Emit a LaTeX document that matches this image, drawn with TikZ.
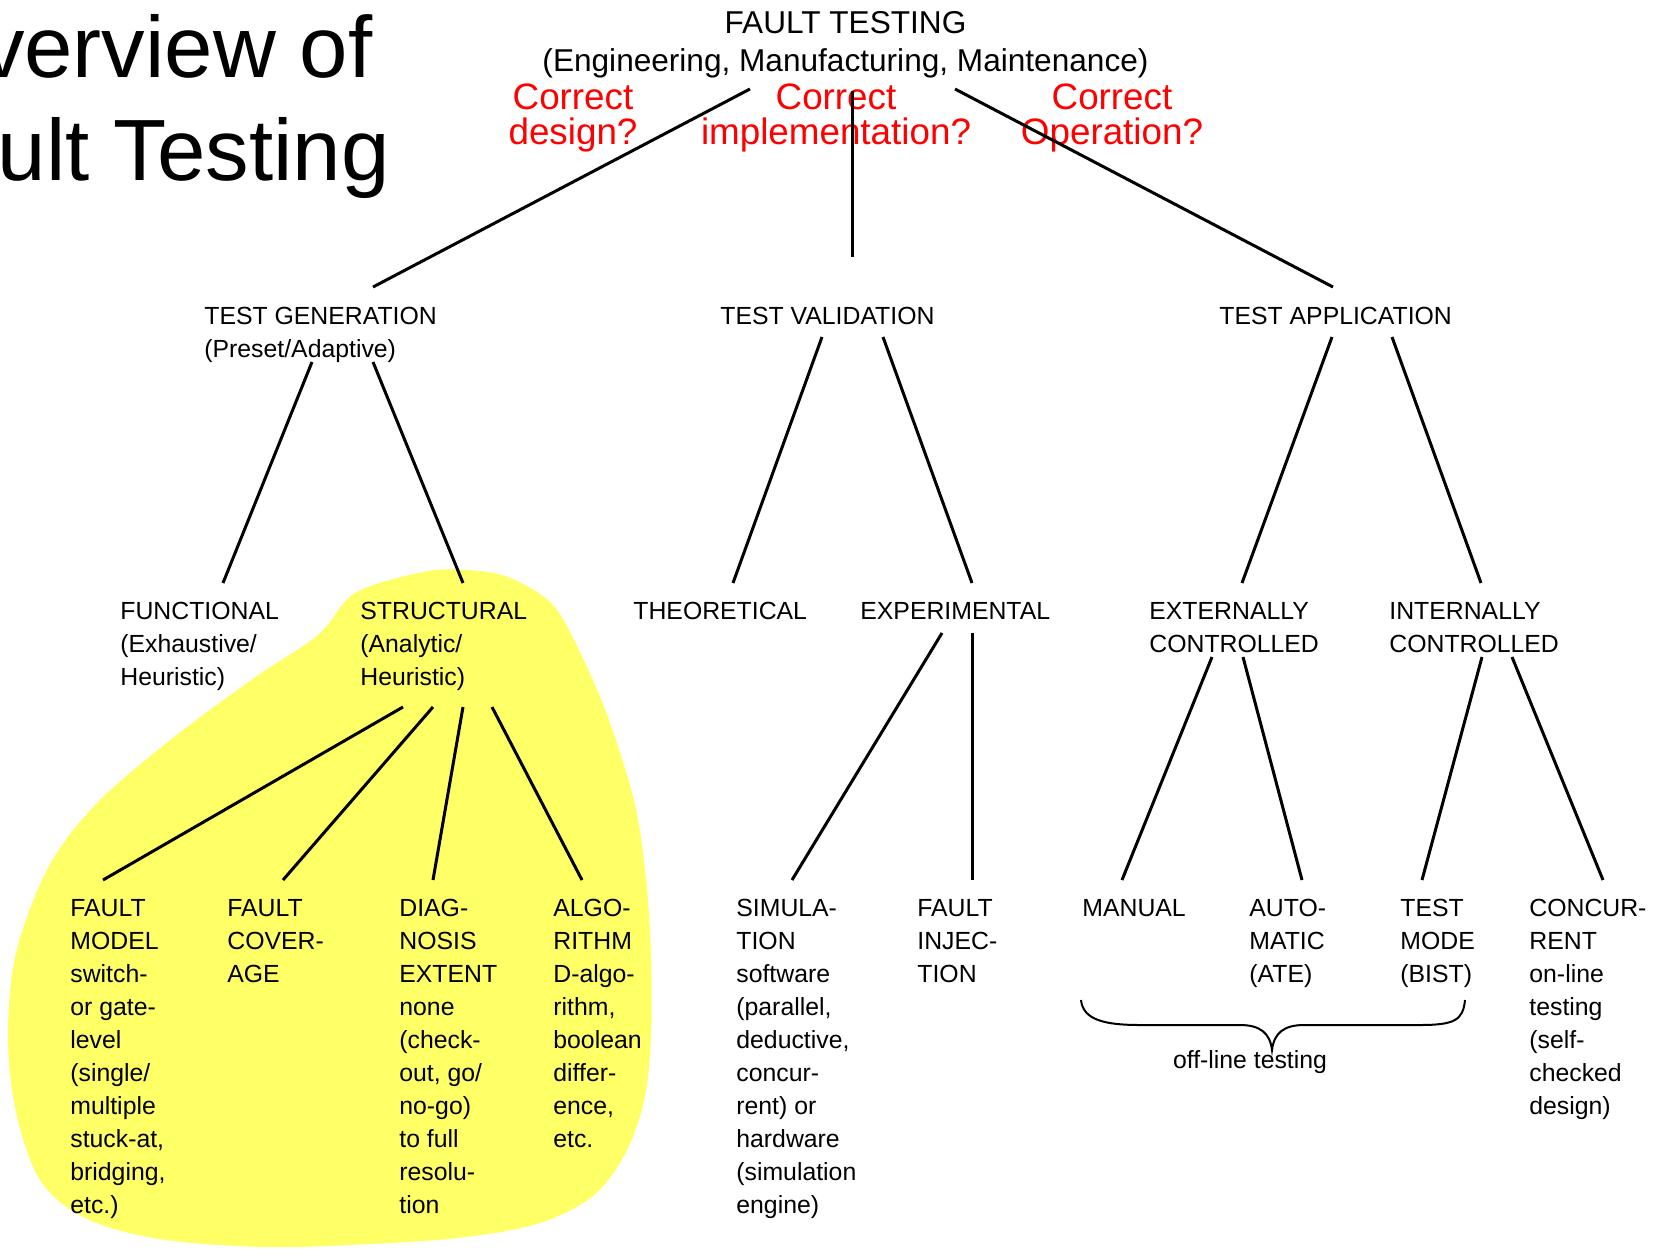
\documentclass[tikz,border=0pt]{standalone}
\usepackage{fontspec}
\setmainfont{Liberation Sans}
\definecolor{blobyellow}{RGB}{255,255,102}
\definecolor{qred}{RGB}{255,0,0}
\newcommand\lnsL[1]{\vtop{\lineskiplimit=-100pt\halign{##\hfil\cr#1\crcr}}}
\newcommand\lnsC[1]{\vtop{\lineskiplimit=-100pt\halign{\hfil##\hfil\cr#1\crcr}}}
\begin{document}
\begin{tikzpicture}[x=0.5pt,y=-0.5pt,
  txt/.style={inner sep=0pt, anchor=base west, font=\fontsize{12.4}{16.5}\selectfont},
  toptxt/.style={inner sep=0pt, anchor=base, font=\fontsize{15.8}{19}\selectfont},
  redtxt/.style={inner sep=0pt, anchor=base, text=qred, font=\fontsize{18.4}{17.5}\selectfont},
  titletxt/.style={inner sep=0pt, anchor=base, font=\fontsize{43.5}{51.5}\selectfont},
  conn/.style={line width=1.5pt},
  bracepath/.style={line width=1pt},
  blob/.style={fill=blobyellow}]
\useasboundingbox (0,0) rectangle (1660,1248);
\clip (0,0) rectangle (1660,1248);

% yellow highlight
\fill[blob] plot[smooth cycle, tension=0.55] coordinates {
  (355,593) (423,572) (466,570) (508,577) (551,603) (577,646) (609,720)
  (635,805) (646,879) (651,953) (651,1037) (644,1101) (625,1154) (593,1196)
  (540,1223) (466,1237) (371,1244) (265,1247) (159,1239) (85,1218) (40,1180)
  (16,1112) (8,1037) (16,953) (48,868) (95,805) (169,741) (254,678) (318,635)};

% title (clipped at the left edge, as in the original slide)
\node[titletxt] (title) at (143,77) {\lnsC{Overview of\cr Fault Testing}};

% root
\node[toptxt] (ft) at (845.5,33) {\lnsC{FAULT TESTING\cr (Engineering, Manufacturing, Maintenance)}};

% red questions
\node[redtxt] (q1) at (573,109) {\lnsC{Correct\cr design?}};
\node[redtxt] (q2) at (836,109) {\lnsC{Correct\cr implementation?}};
\node[redtxt] (q3) at (1112,109) {\lnsC{Correct\cr Operation?}};

% level 2
\node[txt] (tg) at (204,324) {\lnsL{TEST GENERATION\cr (Preset/Adaptive)}};
\node[txt] (tv) at (720,324) {TEST VALIDATION};
\node[txt] (ta) at (1219,324) {TEST APPLICATION};

% level 3
\node[txt] (func) at (120,619) {\lnsL{FUNCTIONAL\cr (Exhaustive/\cr Heuristic)}};
\node[txt] (struct) at (360,619) {\lnsL{STRUCTURAL\cr (Analytic/\cr Heuristic)}};
\node[txt] (theo) at (633,619) {THEORETICAL};
\node[txt] (exp) at (860,619) {EXPERIMENTAL};
\node[txt] (ext) at (1149,619) {\lnsL{EXTERNALLY\cr CONTROLLED}};
\node[txt] (int) at (1389,619) {\lnsL{INTERNALLY\cr CONTROLLED}};

% level 4
\node[txt] (fm) at (70,916) {\lnsL{FAULT\cr MODEL\cr switch-\cr or gate-\cr level\cr (single/\cr multiple\cr stuck-at,\cr bridging,\cr etc.)}};
\node[txt] (fc) at (227,916) {\lnsL{FAULT\cr COVER-\cr AGE}};
\node[txt] (de) at (399,916) {\lnsL{DIAG-\cr NOSIS\cr EXTENT\cr none\cr (check-\cr out, go/\cr no-go)\cr to full\cr resolu-\cr tion}};
\node[txt] (al) at (553,916) {\lnsL{ALGO-\cr RITHM\cr D-algo-\cr rithm,\cr boolean\cr differ-\cr ence,\cr etc.}};
\node[txt] (sim) at (736,916) {\lnsL{SIMULA-\cr TION\cr software\cr (parallel,\cr deductive,\cr concur-\cr rent) or\cr hardware\cr (simulation\cr engine)}};
\node[txt] (fi) at (917,916) {\lnsL{FAULT\cr INJEC-\cr TION}};
\node[txt] (man) at (1082,916) {MANUAL};
\node[txt] (auto) at (1249,916) {\lnsL{AUTO-\cr MATIC\cr (ATE)}};
\node[txt] (tm) at (1400,916) {\lnsL{TEST\cr MODE\cr (BIST)}};
\node[txt] (conc) at (1529,916) {\lnsL{CONCUR-\cr RENT\cr on-line\cr testing\cr (self-\cr checked\cr design)}};

% connector end points
\coordinate (ft-l) at (750,89);   \coordinate (tg-in) at (373,287);
\coordinate (ft-m) at (852,91);   \coordinate (tv-in) at (852,257);
\coordinate (ft-r) at (955,89);   \coordinate (ta-in) at (1333,287);
\coordinate (tg-l) at (312,362);  \coordinate (func-in) at (223,583);
\coordinate (tg-r) at (373,362);  \coordinate (struct-in) at (463,583);
\coordinate (tv-l) at (822,337);  \coordinate (theo-in) at (733,583);
\coordinate (tv-r) at (883,337);  \coordinate (exp-in) at (972,583);
\coordinate (ta-l) at (1332,337); \coordinate (ext-in) at (1242,583);
\coordinate (ta-r) at (1392,337); \coordinate (int-in) at (1481,583);
\coordinate (st-1) at (403,707);  \coordinate (fm-in) at (103,880);
\coordinate (st-2) at (433,707);  \coordinate (fc-in) at (283,880);
\coordinate (st-3) at (463,707);  \coordinate (de-in) at (433,880);
\coordinate (st-4) at (492,707);  \coordinate (al-in) at (582,880);
\coordinate (ex-1) at (942,633);  \coordinate (sim-in) at (792,880);
\coordinate (ex-2) at (972,633);  \coordinate (fi-in) at (972,880);
\coordinate (et-1) at (1212,657); \coordinate (man-in) at (1122,880);
\coordinate (et-2) at (1243,657); \coordinate (auto-in) at (1302,880);
\coordinate (it-1) at (1482,657); \coordinate (tm-in) at (1422,880);
\coordinate (it-2) at (1512,657); \coordinate (conc-in) at (1603,880);

% connectors
\draw[conn] (ft-l) -- (tg-in);
\draw[conn] (ft-m) -- (tv-in);
\draw[conn] (ft-r) -- (ta-in);
\draw[conn] (tg-l) -- (func-in);
\draw[conn] (tg-r) -- (struct-in);
\draw[conn] (tv-l) -- (theo-in);
\draw[conn] (tv-r) -- (exp-in);
\draw[conn] (ta-l) -- (ext-in);
\draw[conn] (ta-r) -- (int-in);
\draw[conn] (st-1) -- (fm-in);
\draw[conn] (st-2) -- (fc-in);
\draw[conn] (st-3) -- (de-in);
\draw[conn] (st-4) -- (al-in);
\draw[conn] (ex-1) -- (sim-in);
\draw[conn] (ex-2) -- (fi-in);
\draw[conn] (et-1) -- (man-in);
\draw[conn] (et-2) -- (auto-in);
\draw[conn] (it-1) -- (tm-in);
\draw[conn] (it-2) -- (conc-in);

% brace for off-line testing
\coordinate (br-l) at (1081,1000);
\coordinate (br-tip) at (1272,1050);
\coordinate (br-r) at (1465,1000);
\draw[bracepath] (br-l) .. controls (1083,1020) and (1105,1025) .. (1140,1025)
  -- (1240,1025) .. controls (1260,1025) and (1270,1033) .. (br-tip)
  .. controls (1274,1033) and (1284,1025) .. (1304,1025)
  -- (1420,1025) .. controls (1455,1025) and (1463,1020) .. (br-r);
\node[txt, anchor=base] (offline) at (1250,1068) {off-line testing};
\end{tikzpicture}
\end{document}
